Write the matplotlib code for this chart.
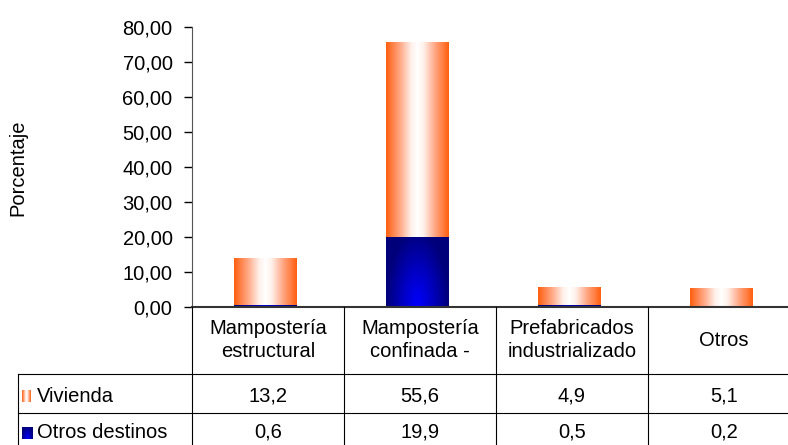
import numpy as np
import matplotlib.pyplot as plt
from matplotlib.colors import LinearSegmentedColormap
from matplotlib.lines import Line2D
from matplotlib.transforms import blended_transform_factory

plt.rcParams['font.family'] = ['Liberation Sans', 'DejaVu Sans']

categorias = ["Mampostería\nestructural", "Mampostería\nconfinada -",
              "Prefabricados\nindustrializado", "Otros"]
series = ["Vivienda", "Otros destinos"]
vivienda = [13.2, 55.6, 4.9, 5.1]
otros_destinos = [0.6, 19.9, 0.5, 0.2]

W, H = 788, 445
FS = 14.5
fig = plt.figure(figsize=(W / 100, H / 100), dpi=100)
ax = fig.add_axes([192 / W, 1 - 307 / H, 608 / W, 280 / H])

orange = LinearSegmentedColormap.from_list(
    "or", [(0, "#ff6010"), (0.2, "#ffa07a"), (0.4, "#fff0ea"), (0.5, "#ffffff"),
           (0.6, "#fff0ea"), (0.8, "#ffa07a"), (1, "#ff6010")])
blue = LinearSegmentedColormap.from_list("bl", ["#0000ff", "#0000c0", "#00007a"])

bw = 0.41
xx = np.linspace(0, 1, 200)
orange_img = xx[None, :]
gx, gy = np.meshgrid(np.linspace(-1, 1, 120), np.linspace(0, 1, 60))
blue_img = np.clip(np.sqrt(gx ** 2 + (gy * 0.9) ** 2), 0, 1)

for i, (v, o) in enumerate(zip(vivienda, otros_destinos)):
    ax.imshow(blue_img, cmap=blue, aspect="auto", origin="lower",
              extent=[i - 0.02 - bw / 2, i - 0.02 + bw / 2, 0, o],
              vmin=0, vmax=1, zorder=2)
    ax.imshow(orange_img, cmap=orange, aspect="auto", origin="lower",
              extent=[i - 0.02 - bw / 2, i - 0.02 + bw / 2, o, o + v],
              vmin=0, vmax=1, zorder=2)

ax.set_xlim(-0.5, 3.5)
ax.set_ylim(0, 80)
ax.set_yticks(np.arange(0, 81, 10))
ax.set_yticklabels([f"{t:.2f}".replace(".", ",") for t in np.arange(0, 81, 10)],
                   fontsize=FS)
ax.tick_params(axis="y", direction="out", length=6, width=1, pad=8)
ax.set_xticks([])
for s in ["top", "right"]:
    ax.spines[s].set_visible(False)
ax.spines["left"].set_color("#555555")
ax.spines["bottom"].set_color("#333333")
ax.spines["bottom"].set_linewidth(1.5)
ax.patch.set_visible(False)

fig.text(18 / W, 1 - 168 / H, "Porcentaje", rotation=90, ha="center",
         va="center", fontsize=FS)

# data table below the plot
tr = blended_transform_factory(ax.transData, fig.transFigure)
def fy(p):
    return 1 - p / H

bounds = [-0.5, 0.5, 1.5, 2.5, 3.5]
for b in bounds:
    fig.add_artist(Line2D([b, b], [fy(307), fy(445)], transform=tr,
                          color="black", lw=0.8))
left = 18 / W
for yl in [374, 413]:
    fig.add_artist(Line2D([left, 1.1], [fy(yl), fy(yl)],
                          transform=fig.transFigure, color="black", lw=0.8))
fig.add_artist(Line2D([left, left], [fy(374), fy(445)],
                      transform=fig.transFigure, color="black", lw=0.8))

for i, c in enumerate(categorias):
    fig.text(i, fy(340), c, transform=tr, ha="center", va="center",
             fontsize=FS, linespacing=1.32)

rows = [vivienda, otros_destinos]
row_y = [396, 432]
for r, (name, vals, yy) in enumerate(zip(series, rows, row_y)):
    fig.text(37 / W, fy(yy), name, ha="left", va="center", fontsize=FS)
    for i, val in enumerate(vals):
        fig.text(i, fy(yy), f"{val:.1f}".replace(".", ","), transform=tr,
                 ha="center", va="center", fontsize=FS)

# legend keys
kax1 = fig.add_axes([22 / W, fy(402), 9 / W, 12 / H])
kax1.imshow(orange_img, cmap=orange, aspect="auto", vmin=0, vmax=1)
kax2 = fig.add_axes([22 / W, fy(439), 11 / W, 12 / H])
kax2.imshow(blue_img, cmap=blue, aspect="auto", vmin=0, vmax=1, origin="lower")
for k in (kax1, kax2):
    k.axis("off")

fig.savefig("out.png", dpi=100)
